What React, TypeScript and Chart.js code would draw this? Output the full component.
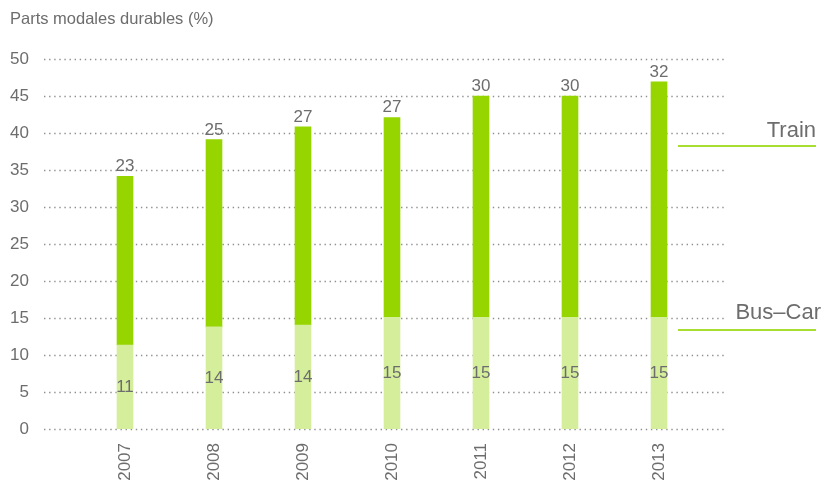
import React, { useEffect, useRef } from "react";
import { Chart, registerables } from "chart.js";

Chart.register(...registerables);

const years = ["2007", "2008", "2009", "2010", "2011", "2012", "2013"];
const busCar = [11.35, 13.8, 14.05, 15.1, 15.1, 15.1, 15.1];
const train = [22.8, 25.3, 26.8, 27.0, 29.9, 29.9, 31.8];
const busCarLabels = ["11", "14", "14", "15", "15", "15", "15"];
const trainLabels = ["23", "25", "27", "27", "30", "30", "32"];
const yMin = 0;
const yMax = 50;
const yStep = 5;
const title = "Parts modales durables (%)";
const legendTrain = "Train";
const legendBus = "Bus\u2013Car";

const FONT = "'Liberation Sans', Arimo, sans-serif";
const TEXT = "#6d6d6d";
const GREEN = "#96d500";
const LIGHT = "#d5ee9b";
const LINE = "#a8de30";

const gridPlugin = {
  id: "dotGrid",
  beforeDatasetsDraw(chart: any) {
    const ctx = chart.ctx;
    const y = chart.scales.y;
    ctx.save();
    ctx.strokeStyle = "#8f8f8f";
    ctx.lineWidth = 1.4;
    ctx.setLineDash([1.4, 3.7]);
    y.ticks.forEach((t: any) => {
      const py = Math.round(y.getPixelForValue(t.value)) + 0.5;
      ctx.beginPath();
      ctx.moveTo(44, py);
      ctx.lineTo(725, py);
      ctx.stroke();
    });
    ctx.restore();
  },
};

const labelPlugin = {
  id: "valueLabels",
  afterDatasetsDraw(chart: any) {
    const ctx = chart.ctx;
    ctx.save();
    ctx.fillStyle = TEXT;
    ctx.font = `17px ${FONT}`;
    ctx.textAlign = "center";
    const m0 = chart.getDatasetMeta(0);
    m0.data.forEach((el: any, i: number) => {
      ctx.textBaseline = "middle";
      ctx.fillText(busCarLabels[i], el.x, (el.y + el.base) / 2);
    });
    const m1 = chart.getDatasetMeta(1);
    m1.data.forEach((el: any, i: number) => {
      ctx.textBaseline = "alphabetic";
      ctx.fillText(trainLabels[i], el.x, el.y - 5);
    });
    ctx.restore();
  },
};

const annotPlugin = {
  id: "annot",
  afterDraw(chart: any) {
    const ctx = chart.ctx;
    const y = chart.scales.y;
    ctx.save();
    ctx.fillStyle = TEXT;
    ctx.font = `16.5px ${FONT}`;
    ctx.textAlign = "left";
    ctx.textBaseline = "alphabetic";
    ctx.fillText(title, 10, 24);

    ctx.font = `22px ${FONT}`;
    ctx.textAlign = "right";
    const tY = y.getPixelForValue(38.3);
    ctx.fillText(legendTrain, 816, tY - 9);
    const bY = y.getPixelForValue(13.4);
    ctx.fillText(legendBus, 821, bY - 11);

    ctx.strokeStyle = LINE;
    ctx.lineWidth = 2;
    ctx.beginPath();
    ctx.moveTo(678, Math.round(tY));
    ctx.lineTo(816, Math.round(tY));
    ctx.moveTo(678, Math.round(bY));
    ctx.lineTo(816, Math.round(bY));
    ctx.stroke();
    ctx.restore();
  },
};

export default function App() {
  const ref = useRef<HTMLCanvasElement | null>(null);
  useEffect(() => {
    if (!ref.current) return;
    const chart = new Chart(ref.current, {
      type: "bar",
      data: {
        labels: years,
        datasets: [
          { label: "Bus\u2013Car", data: busCar, backgroundColor: LIGHT, barThickness: 16 },
          { label: "Train", data: train, backgroundColor: GREEN, barThickness: 16 },
        ],
      },
      options: {
        responsive: false,
        animation: false,
        layout: { padding: { top: 59, left: 0, right: 118.5, bottom: 0 } },
        plugins: { legend: { display: false }, tooltip: { enabled: false } },
        scales: {
          x: {
            stacked: true,
            grid: { display: false, drawTicks: false },
            border: { display: false },
            ticks: {
              color: TEXT,
              font: { family: FONT, size: 17 },
              minRotation: 90,
              maxRotation: 90,
              padding: 14,
            },
            afterFit(scale: any) {
              scale.height = 53;
              scale.paddingTop = 0;
              scale.paddingBottom = 0;
            },
          },
          y: {
            stacked: true,
            min: yMin,
            max: yMax,
            grid: { display: false, drawTicks: false },
            border: { display: false },
            ticks: {
              stepSize: yStep,
              color: TEXT,
              font: { family: FONT, size: 17 },
              padding: 51.5,
            },
            afterFit(scale: any) {
              scale.width = 80.5;
              scale.paddingTop = 0;
              scale.paddingBottom = 0;
            },
          },
        },
      },
      plugins: [gridPlugin, labelPlugin, annotPlugin],
    });
    return () => chart.destroy();
  }, []);
  return (
    <div style={{ position: "fixed", left: 0, top: 0, width: 822, height: 482, background: "#fff" }}>
      <canvas ref={ref} width={822} height={482} style={{ display: "block" }} />
    </div>
  );
}
